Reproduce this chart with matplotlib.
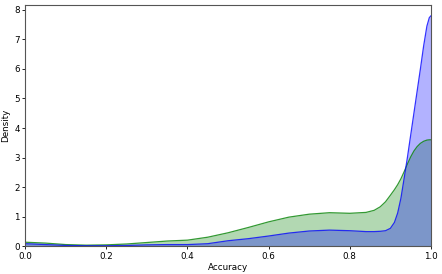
import matplotlib
matplotlib.use("Agg")
from matplotlib import pyplot as plt

# density curves
acc = [0.0, 0.05, 0.1, 0.15, 0.2, 0.25, 0.3, 0.35, 0.4, 0.45, 0.5, 0.55, 0.6,
       0.65, 0.7, 0.75, 0.8, 0.84, 0.86, 0.875, 0.888, 0.9, 0.91, 0.918,
       0.926, 0.934, 0.942, 0.95, 0.958, 0.966, 0.974, 0.982, 0.99, 0.996, 1.0]
green_density = [0.13, 0.10, 0.05, 0.03, 0.04, 0.07, 0.12, 0.17, 0.20, 0.30,
                 0.45, 0.63, 0.82, 0.98, 1.08, 1.13, 1.11, 1.14, 1.21, 1.33,
                 1.50, 1.72, 1.91, 2.08, 2.28, 2.52, 2.78, 3.02, 3.22, 3.37,
                 3.48, 3.55, 3.59, 3.60, 3.60]
blue_density = [0.08, 0.05, 0.02, 0.01, 0.01, 0.02, 0.04, 0.05, 0.05, 0.08,
                0.18, 0.25, 0.34, 0.44, 0.51, 0.54, 0.52, 0.49, 0.49, 0.50,
                0.52, 0.60, 0.80, 1.12, 1.62, 2.30, 3.00, 3.75, 4.50, 5.25,
                6.00, 6.78, 7.45, 7.74, 7.80]

fig = plt.figure(figsize=(4.42, 2.74), dpi=100)
ax = fig.add_axes([0.057, 0.102, 0.918, 0.880])

ax.fill_between(acc, green_density, color="green", alpha=0.3, linewidth=0)
ax.plot(acc, green_density, color="green", alpha=0.8, linewidth=0.9)
ax.fill_between(acc, blue_density, color="blue", alpha=0.3, linewidth=0)
ax.plot(acc, blue_density, color="blue", alpha=0.8, linewidth=0.9)

ax.set_xlim(0, 1)
ax.set_ylim(0, 8.17)
ax.set_xticks([0.0, 0.2, 0.4, 0.6, 0.8, 1.0])
ax.set_yticks(range(0, 9))
ax.tick_params(labelsize=6.3, length=2.5, width=0.6, pad=1.5)
ax.set_xlabel("Accuracy", fontsize=6.3, labelpad=2)
ax.set_ylabel("Density", fontsize=6.3, labelpad=3)
for s in ax.spines.values():
    s.set_linewidth(0.8)
    s.set_color("#555555")

fig.savefig("out.png", dpi=100)
